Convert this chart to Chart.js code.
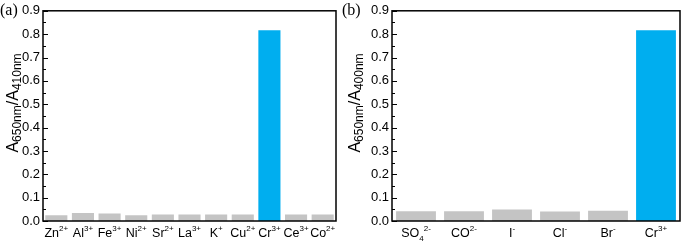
<!DOCTYPE html>
<html>
<head>
<meta charset="utf-8">
<script src="https://cdn.jsdelivr.net/npm/chart.js@4.4.0/dist/chart.umd.min.js"></script>
<style>
  html, body { margin: 0; padding: 0; background: #fff; }
  #wrap { position: relative; width: 685px; height: 243px; }
  .panel { position: absolute; top: 0; height: 243px; }
  #pa { left: 0; width: 340px; }
  #pb { left: 340px; width: 345px; }
</style>
</head>
<body>
<div id="wrap">
  <div class="panel" id="pa"><canvas id="graphA"></canvas></div>
  <div class="panel" id="pb"><canvas id="graphB"></canvas></div>
</div>
<script>
// labels use ^{} for superscript and _{} for subscript
var ionsA = ['Zn^{2+}', 'Al^{3+}', 'Fe^{3+}', 'Ni^{2+}', 'Sr^{2+}', 'La^{3+}', 'K^{+}', 'Cu^{2+}', 'Cr^{3+}', 'Ce^{3+}', 'Co^{2+}'];
var valuesA = [0.025, 0.034, 0.032, 0.025, 0.028, 0.028, 0.028, 0.028, 0.817, 0.028, 0.028];

var ionsB = ['SO_{4}^{2-}', 'CO^{2-}', 'I^{-}', 'Cl^{-}', 'Br^{-}', 'Cr^{3+}'];
var valuesB = [0.042, 0.042, 0.049, 0.041, 0.044, 0.817];

var yTicks = [0.0, 0.1, 0.2, 0.3, 0.4, 0.5, 0.6, 0.7, 0.8, 0.9];

var grey = '#c4c4c4';
var blue = '#00aeef';
var font = '"Liberation Sans", Arial, sans-serif';

// split "A_{650nm}/A_{410nm}" into pieces
function parseRich(str) {
  var parts = [];
  var re = /(\^|_)\{([^}]*)\}|([^_^]+)/g;
  var m;
  while ((m = re.exec(str)) !== null) {
    if (m[3]) parts.push({ t: m[3], k: 'n' });
    else parts.push({ t: m[2], k: m[1] === '^' ? 'sup' : 'sub' });
  }
  return parts;
}

function richWidth(ctx, parts, size, small) {
  var w = 0;
  parts.forEach(function (p) {
    ctx.font = (p.k === 'n' ? size : small) + 'px ' + font;
    w += ctx.measureText(p.t).width;
  });
  return w;
}

function drawRich(ctx, str, x, y, size, small, subDrop) {
  var parts = parseRich(str);
  var w = richWidth(ctx, parts, size, small);
  var cx = x - w / 2;
  ctx.textAlign = 'left';
  ctx.textBaseline = 'alphabetic';
  parts.forEach(function (p) {
    var dy = 0;
    if (p.k === 'sup') dy = -size * 0.45;
    if (p.k === 'sub') dy = subDrop;
    ctx.font = (p.k === 'n' ? size : small) + 'px ' + font;
    ctx.fillText(p.t, cx, y + dy);
    cx += ctx.measureText(p.t).width;
  });
}

var decorPlugin = {
  id: 'decor',
  afterDraw: function (chart) {
    var ctx = chart.ctx;
    var area = chart.chartArea;
    var y = chart.scales.y;
    var x = chart.scales.x;
    var opts = chart.options.plugins.decor;
    ctx.save();

    // frame
    ctx.strokeStyle = '#000';
    ctx.lineWidth = 1.5;
    ctx.strokeRect(area.left, area.top, area.right - area.left, area.bottom - area.top);

    // inward ticks, major + minor
    ctx.lineWidth = 1;
    for (var v = 0; v <= 0.9001; v += 0.05) {
      var py = Math.round(y.getPixelForValue(v)) + 0.5;
      var major = Math.abs(v * 10 - Math.round(v * 10)) < 0.01;
      ctx.beginPath();
      ctx.moveTo(area.left, py);
      ctx.lineTo(area.left + (major ? 5 : 3), py);
      ctx.stroke();
    }

    // x labels with super/subscripts
    ctx.fillStyle = '#000';
    opts.labels.forEach(function (lab, i) {
      drawRich(ctx, lab, x.getPixelForValue(i), area.bottom + 16, 12.5, 8, 3.5);
    });

    // y title rotated
    ctx.save();
    ctx.translate(opts.titleX, 103);
    ctx.rotate(-Math.PI / 2);
    drawRich(ctx, opts.title, 0, 0, 16, 12, 3);
    ctx.restore();

    // panel letter
    ctx.font = '16px "Liberation Serif", "DejaVu Serif", serif';
    ctx.textAlign = 'left';
    ctx.textBaseline = 'middle';
    ctx.fillText(opts.letter, opts.letterX, 11);
    ctx.restore();
  }
};

function makeChart(id, labels, values, yWidth, padRight, title, titleX, letter, letterX) {
  return new Chart(document.getElementById(id), {
    type: 'bar',
    data: {
      labels: labels.map(function (l) { return l.replace(/[\^_{}]/g, ''); }),
      datasets: [{
        data: values,
        backgroundColor: values.map(function (v) { return v > 0.5 ? blue : grey; }),
        borderWidth: 0,
        categoryPercentage: 1,
        barPercentage: 0.83
      }]
    },
    options: {
      responsive: true,
      maintainAspectRatio: false,
      animation: false,
      layout: { padding: { top: 6, right: padRight, left: 0, bottom: 0 } },
      plugins: {
        legend: { display: false },
        tooltip: { enabled: false },
        decor: { labels: labels, title: title, titleX: titleX, letter: letter, letterX: letterX }
      },
      scales: {
        x: {
          grid: { display: false, drawTicks: false },
          border: { display: false },
          ticks: { display: false },
          afterFit: function (s) { s.height = 22; }
        },
        y: {
          min: 0,
          max: 0.9,
          grid: { display: false, drawTicks: false },
          border: { display: false },
          afterBuildTicks: function (s) {
            s.ticks = yTicks.map(function (v) { return { value: v }; });
          },
          ticks: {
            color: '#000',
            padding: 3,
            font: { family: font, size: 13 },
            callback: function (v) { return Number(v).toFixed(1); }
          },
          afterFit: function (s) { s.width = yWidth; }
        }
      }
    },
    plugins: [decorPlugin]
  });
}

var graphA = makeChart('graphA', ionsA, valuesA, 43, 4, 'A_{650nm}/A_{410nm}', 18, '(a)', 0);
var graphB = makeChart('graphB', ionsB, valuesB, 52, 5, 'A_{650nm}/A_{400nm}', 20, '(b)', 2);
</script>
</body>
</html>
